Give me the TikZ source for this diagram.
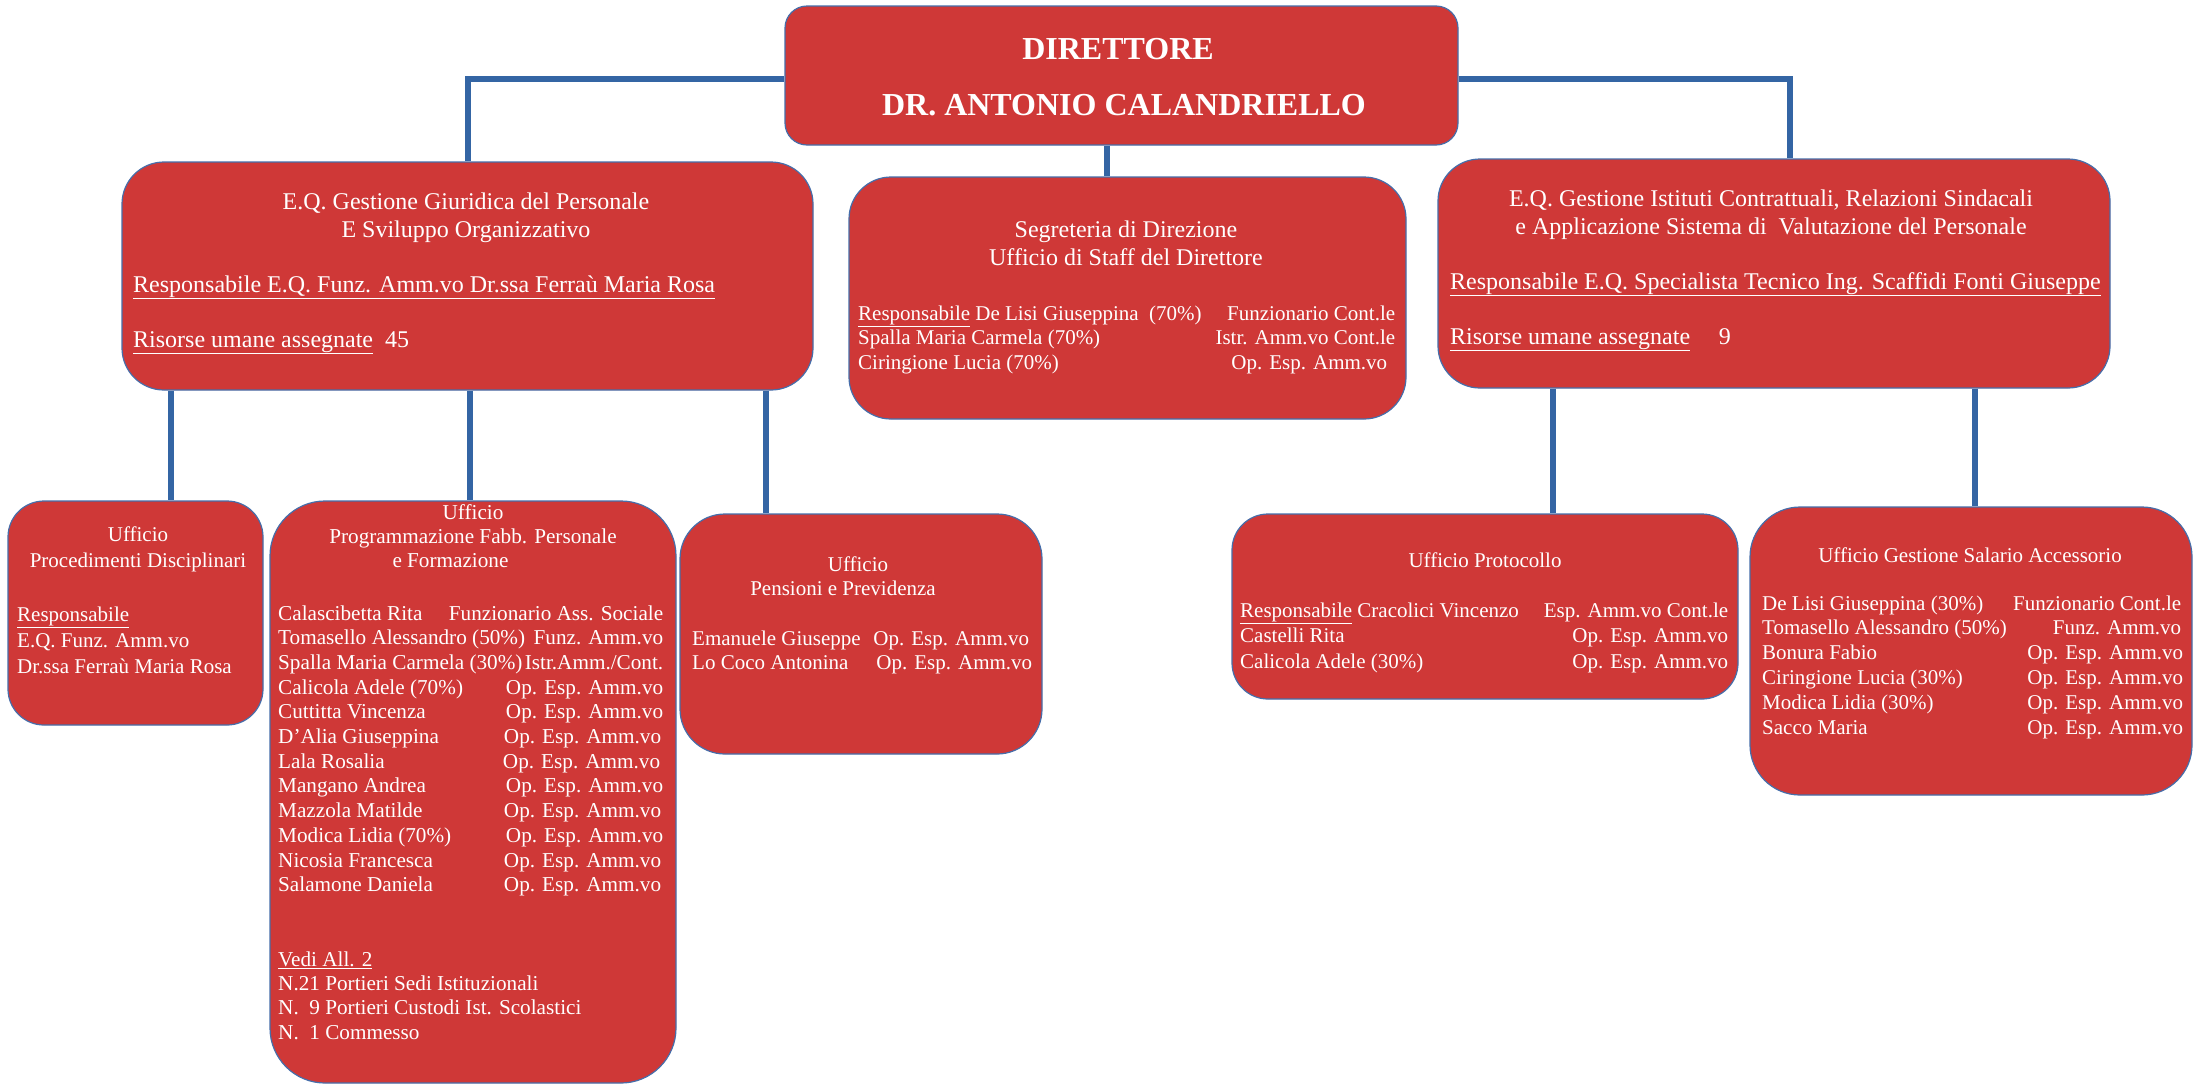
\documentclass[tikz,border=0pt]{standalone}
\usepackage{fontspec}
\setmainfont{Liberation Serif}
\usetikzlibrary{backgrounds}
\definecolor{boxred}{RGB}{207,56,55}
\definecolor{boxline}{RGB}{70,110,170}
\definecolor{connblue}{RGB}{52,101,164}
\newcommand\ul[1]{\underline{#1}}
\newcommand\fs[2]{\fontsize{#1}{#2}\selectfont}
\newcommand\ctab[1]{\begin{tabular}[t]{@{}c@{}}#1\end{tabular}}
\newcommand\ltab[1]{\begin{tabular}[t]{@{}l@{}}#1\end{tabular}}
\newcommand\rtab[2]{\def\rwW{#1}\begin{tabular}[t]{@{}l@{}}#2\end{tabular}}
\newcommand\rw[2]{\hbox to \rwW{#1\hfill #2}}
\hfuzz=20pt
\begin{document}
\begin{tikzpicture}[x=1pt,y=-1pt,
  ubox/.style={draw=boxline, line width=1.2pt, fill=boxred, inner sep=0pt},
  conn/.style={draw=connblue, line width=6pt},
  txt/.style={text=white, inner sep=0pt, anchor=base west},
  ctxt/.style={text=white, inner sep=0pt, anchor=base},
]
\useasboundingbox (0,0) rectangle (2194,1085);

% boxes
\node[ubox, rounded corners=22pt, minimum width=673pt, minimum height=139pt] (dir) at (1121.5,75.5) {};
\node[ubox, rounded corners=42pt, minimum width=691pt, minimum height=228pt] (l1) at (467.5,276) {};
\node[ubox, rounded corners=42pt, minimum width=557pt, minimum height=242pt] (seg) at (1127.5,298) {};
\node[ubox, rounded corners=42pt, minimum width=672pt, minimum height=229pt] (r1) at (1774,273.5) {};
\node[ubox, rounded corners=36pt, minimum width=255pt, minimum height=224pt] (a) at (135.5,613) {};
\node[ubox, rounded corners=55pt, minimum width=406pt, minimum height=582pt] (b) at (473,792) {};
\node[ubox, rounded corners=45pt, minimum width=362pt, minimum height=240pt] (c) at (861,634) {};
\node[ubox, rounded corners=36pt, minimum width=506pt, minimum height=185pt] (d) at (1485,606.5) {};
\node[ubox, rounded corners=50pt, minimum width=442pt, minimum height=288pt] (e) at (1971,651) {};

% connectors
\coordinate (hl) at (0,79);
\coordinate (kr) at (1790,0);
\coordinate (km) at (1107,0);
\coordinate (ka) at (171,0);
\coordinate (kb) at (470,0);
\coordinate (kc) at (766,0);
\coordinate (kd) at (1553,0);
\coordinate (ke) at (1975,0);
\begin{pgfonlayer}{background}
\fill[white] (0,0) rectangle (2194,1085);
\draw[conn] (dir.west |- hl) -| (l1.north);
\draw[conn] (dir.east |- hl) -| (r1.north -| kr);
\draw[conn] (dir.south -| km) -- (seg.north -| km);
\draw[conn] (l1.south -| ka) -- (a.north -| ka);
\draw[conn] (l1.south -| kb) -- (b.north -| kb);
\draw[conn] (l1.south -| kc) -- (c.north -| kc);
\draw[conn] (r1.south -| kd) -- (d.north -| kd);
\draw[conn] (r1.south -| ke) -- (e.north -| ke);
\end{pgfonlayer}

% director
\node[ctxt, font=\fs{32}{38}\bfseries] (dirt1) at (1118,59) {DIRETTORE};
\node[ctxt, font=\fs{32}{38}\bfseries] (dirt2) at (1124,115) {DR. ANTONIO CALANDRIELLO};

% E.Q. gestione giuridica
\node[ctxt, font=\fs{24}{28}] (l1t) at (466,209) {\ctab{E.Q. Gestione Giuridica del Personale\\E Sviluppo Organizzativo}};
\node[txt, font=\fs{24}{28}] (l1r) at (133,292) {\ul{Responsabile E.Q. Funz. Amm.vo Dr.ssa Ferraù Maria Rosa}};
\node[txt, font=\fs{24}{28}] (l1n) at (133,347) {\ul{Risorse umane assegnate}\hspace{0.5em}45};

% segreteria
\node[ctxt, font=\fs{24}{28}] (segt) at (1126,237) {\ctab{Segreteria di Direzione\\Ufficio di Staff del Direttore}};
\node[txt, font=\fs{21}{24.5}] (segr) at (858,320) {\rtab{537pt}{%
\rw{\ul{Responsabile} De Lisi Giuseppina\ \ (70\%)}{Funzionario Cont.le}\\
\rw{Spalla Maria Carmela (70\%)}{Istr. Amm.vo Cont.le}\\
\rw{Ciringione Lucia (70\%)}{Op. Esp. Amm.vo\hspace*{8pt}}}};

% E.Q. istituti contrattuali
\node[ctxt, font=\fs{24}{28}] (r1t) at (1771,206) {\ctab{E.Q. Gestione Istituti Contrattuali, Relazioni Sindacali\\e Applicazione Sistema di\ \ Valutazione del Personale}};
\node[txt, font=\fs{24}{28}] (r1r) at (1450,289) {\ul{Responsabile E.Q. Specialista Tecnico Ing. Scaffidi Fonti Giuseppe}};
\node[txt, font=\fs{24}{28}] (r1n) at (1450,344) {\ul{Risorse umane assegnate}\hspace{1.2em}9};

% procedimenti disciplinari
\node[ctxt, font=\fs{21}{26}] (at) at (138,541) {\ctab{Ufficio\\Procedimenti Disciplinari}};
\node[txt, font=\fs{21}{26}] (ar) at (17,621) {\ltab{\ul{Responsabile}\\E.Q. Funz. Amm.vo\\Dr.ssa Ferraù Maria Rosa}};

% programmazione
\node[ctxt, font=\fs{21.2}{24}] (bt) at (473,519) {\ctab{Ufficio\\Programmazione Fabb. Personale\\e Formazione\hspace*{45pt}}};
\node[txt, font=\fs{21.2}{24.7}] (br) at (278,620) {\rtab{385pt}{%
\rw{Calascibetta Rita}{Funzionario Ass. Sociale}\\
\rw{Tomasello Alessandro (50\%)}{Funz. Amm.vo}\\
\rw{Spalla Maria Carmela (30\%)}{Istr.Amm./Cont.}\\
\rw{Calicola Adele (70\%)}{Op. Esp. Amm.vo}\\
\rw{Cuttitta Vincenza}{Op. Esp. Amm.vo}\\
\rw{D’Alia Giuseppina}{Op. Esp. Amm.vo\hspace*{2pt}}\\
\rw{Lala Rosalia}{Op. Esp. Amm.vo\hspace*{3pt}}\\
\rw{Mangano Andrea}{Op. Esp. Amm.vo}\\
\rw{Mazzola Matilde}{Op. Esp. Amm.vo\hspace*{2pt}}\\
\rw{Modica Lidia (70\%)}{Op. Esp. Amm.vo}\\
\rw{Nicosia Francesca}{Op. Esp. Amm.vo\hspace*{2pt}}\\
\rw{Salamone Daniela}{Op. Esp. Amm.vo\hspace*{2pt}}}};
\node[txt, font=\fs{21.2}{24.4}] (bv) at (278,966) {\ltab{\ul{Vedi All. 2}\\N.21 Portieri Sedi Istituzionali\\N.\ \ 9 Portieri Custodi Ist. Scolastici\\N.\ \ 1 Commesso}};

% pensioni
\node[ctxt, font=\fs{21}{24}] (ct1) at (858,571) {Ufficio};
\node[ctxt, font=\fs{21}{24}] (ct2) at (843,595) {Pensioni e Previdenza};
\node[txt, font=\fs{21}{24}] (cr) at (692,645) {\rtab{340pt}{%
\rw{Emanuele Giuseppe}{Op. Esp. Amm.vo\hspace*{3pt}}\\
\rw{Lo Coco Antonina}{Op. Esp. Amm.vo}}};

% protocollo
\node[ctxt, font=\fs{21}{24}] (dt) at (1485,567) {Ufficio Protocollo};
\node[txt, font=\fs{21}{25.5}] (dr) at (1240,617) {\rtab{488pt}{%
\rw{\ul{Responsabile} Cracolici Vincenzo}{Esp. Amm.vo Cont.le}\\
\rw{Castelli Rita}{Op. Esp. Amm.vo}\\
\rw{Calicola Adele (30\%)}{Op. Esp. Amm.vo}}};

% salario accessorio
\node[ctxt, font=\fs{21}{25}] (et) at (1970,562) {Ufficio Gestione Salario Accessorio};
\node[txt, font=\fs{21}{24.8}] (er) at (1762,610) {\rtab{421pt}{%
\rw{De Lisi Giuseppina (30\%)}{Funzionario Cont.le\hspace*{2pt}}\\
\rw{Tomasello Alessandro (50\%)}{Funz. Amm.vo\hspace*{2pt}}\\
\rw{Bonura Fabio}{Op. Esp. Amm.vo}\\
\rw{Ciringione Lucia (30\%)}{Op. Esp. Amm.vo}\\
\rw{Modica Lidia (30\%)}{Op. Esp. Amm.vo}\\
\rw{Sacco Maria}{Op. Esp. Amm.vo}}};
\end{tikzpicture}
\end{document}
